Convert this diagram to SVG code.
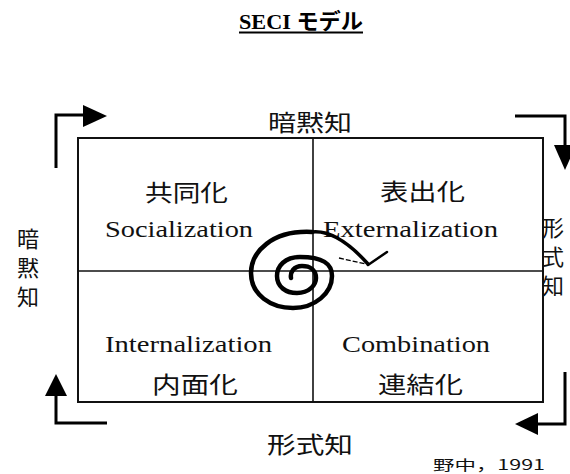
<svg xmlns="http://www.w3.org/2000/svg" width="570" height="474" viewBox="0 0 570 474">
<style>
.cjk{font-family:"Noto Sans CJK JP","Noto Sans",sans-serif;font-size:23px;fill:#111;text-anchor:middle}
.vert{font-family:"Noto Sans CJK JP","Noto Sans",sans-serif;font-size:22px;fill:#111;writing-mode:vertical-rl;letter-spacing:7px}
.lat{font-family:"Liberation Serif","DejaVu Serif",serif;font-size:23px;fill:#111}
.ln{fill:none;stroke:#000;stroke-width:3;stroke-linejoin:miter}
.hd{fill:#000;stroke:none}
.frame{fill:#fff;stroke:#111;stroke-width:2}
.div{stroke:#111;stroke-width:1.6}
</style>
<rect width="570" height="474" fill="#fff"/>
<g id="title">
<text x="301" y="29" text-anchor="middle" font-family="'Liberation Serif','Noto Sans CJK JP',serif" font-weight="bold" font-size="22" fill="#000" textLength="124" lengthAdjust="spacingAndGlyphs">SECI モデル</text>
<line x1="239" y1="32.5" x2="363" y2="32.5" stroke="#000" stroke-width="2"/>
</g>
<g id="frame">
<rect class="frame" x="78" y="138" width="465" height="264"/>
<line class="div" x1="313" y1="138" x2="313" y2="402"/>
<line class="div" x1="78" y1="271" x2="543" y2="271"/>
</g>
<g id="socialization">
<text class="cjk" x="186.5" y="201" textLength="83" lengthAdjust="spacingAndGlyphs">共同化</text>
<text class="lat" x="105" y="237" textLength="148" lengthAdjust="spacingAndGlyphs">Socialization</text>
</g>
<g id="externalization">
<text class="cjk" x="422.5" y="200" textLength="85" lengthAdjust="spacingAndGlyphs">表出化</text>
<text class="lat" x="323" y="237" textLength="175" lengthAdjust="spacingAndGlyphs">Externalization</text>
</g>
<g id="internalization">
<text class="lat" x="105" y="352" textLength="167" lengthAdjust="spacingAndGlyphs">Internalization</text>
<text class="cjk" x="195" y="393" textLength="86" lengthAdjust="spacingAndGlyphs">内面化</text>
</g>
<g id="combination">
<text class="lat" x="342" y="352" textLength="148" lengthAdjust="spacingAndGlyphs">Combination</text>
<text class="cjk" x="420.5" y="393" textLength="85" lengthAdjust="spacingAndGlyphs">連結化</text>
</g>
<g id="axis-top">
<text class="cjk" x="310" y="131" textLength="84" lengthAdjust="spacingAndGlyphs">暗黙知</text>
</g>
<g id="axis-bottom">
<text class="cjk" x="310" y="453" textLength="86" lengthAdjust="spacingAndGlyphs">形式知</text>
</g>
<g id="axis-left">
<text class="vert" x="28" y="228">暗黙知</text>
</g>
<g id="axis-right">
<text class="vert" x="553" y="217">形式知</text>
</g>
<g id="source">
<text x="433" y="470" font-family="'Noto Sans CJK JP','Noto Sans',sans-serif" font-size="14" fill="#111" textLength="112" lengthAdjust="spacingAndGlyphs">野中，1991</text>
</g>
<g id="connectors">
<polyline class="ln" points="56,168 56,115 85,115"/>
<polygon class="hd" points="83,105 107,116 83,127"/>
<polyline class="ln" points="515,116 565,116 565,147"/>
<polygon class="hd" points="554,145 576,145 565,170"/>
<polyline class="ln" points="565,372 565,424 536,424"/>
<polygon class="hd" points="538,413 515,424 538,435"/>
<polyline class="ln" points="107,423 56,423 56,394"/>
<polygon class="hd" points="45,396 56,374 67,396"/>
<path d="M312 232 C272 230 251 252 251 273 C251 295 271 308 293 308 C315 308 332 293 332 276 C332 263 322 257 300 257 C285 257 277 266 277 276 C277 287 286 293 297 293 C309 293 316 285 316 278 C316 270 310 266 302 266 C294 266 290 272 291 278" fill="none" stroke="#000" stroke-width="4.5" stroke-linecap="round"/>
<path d="M312 232 C330 230 350 244 368 264" fill="none" stroke="#000" stroke-width="3.5" stroke-linecap="round"/>
<path d="M368 265 L387 252" fill="none" stroke="#000" stroke-width="2.5" stroke-linecap="round"/>
<path d="M339 258 L366 264" fill="none" stroke="#000" stroke-width="1.3" stroke-dasharray="5 2"/>
</g>
</svg>
